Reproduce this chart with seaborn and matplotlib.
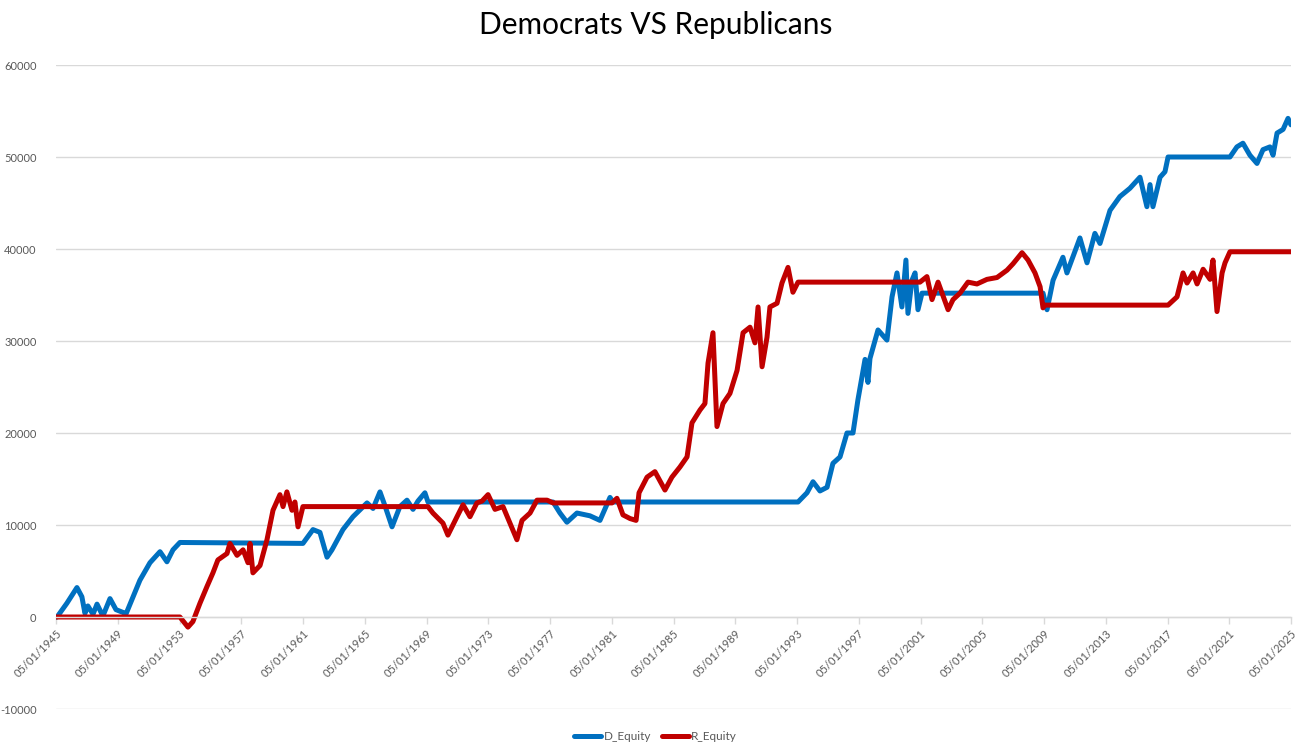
import matplotlib
matplotlib.use("Agg")
import matplotlib.pyplot as plt
import seaborn as sns
import pandas as pd

# ---- data (decimal years, equity) ----
d_years = [1945.33, 1945.40, 1946.04, 1946.69, 1947.01, 1947.21, 1947.40, 1947.73, 1947.99, 1948.37,
           1948.83, 1949.22, 1949.67, 1949.86, 1950.77, 1951.42, 1952.07, 1952.52, 1952.91, 1953.36,
           1961.33, 1961.98, 1962.43, 1962.89, 1963.21, 1963.92, 1964.57, 1965.48, 1965.87, 1966.32,
           1966.64, 1967.10, 1967.61, 1968.07, 1968.46, 1968.78, 1969.23, 1969.43,
           1977.53, 1977.98, 1978.43, 1979.08, 1979.92, 1980.57, 1981.22, 1981.41,
           1993.40, 1993.98, 1994.37, 1994.82, 1995.28, 1995.66, 1996.12, 1996.57, 1996.96, 1997.28,
           1997.74, 1997.93, 1998.06, 1998.58, 1999.16, 1999.49, 1999.81, 2000.13, 2000.39, 2000.52,
           2000.78, 2000.98, 2001.17, 2001.43,
           2009.27, 2009.53, 2009.92, 2010.56, 2010.82, 2011.66, 2012.12, 2012.63, 2012.96, 2013.61,
           2014.25, 2014.90, 2015.55, 2016.00, 2016.20, 2016.39, 2016.85, 2017.17, 2017.37,
           2021.38, 2021.83, 2022.22, 2022.67, 2023.13, 2023.52, 2023.97, 2024.17, 2024.43, 2024.82,
           2025.14, 2025.33]
d_equity = [0, 0, 1500, 3200, 2200, 400, 1200, 300, 1400, 100,
            2000, 800, 500, 300, 4000, 5900, 7100, 6000, 7300, 8100,
            8000, 9500, 9200, 6500, 7300, 9500, 10900, 12400, 11800, 13600,
            12100, 9800, 12000, 12700, 11700, 12600, 13500, 12500,
            12500, 11300, 10300, 11300, 11000, 10500, 13000, 12500,
            12500, 13500, 14700, 13700, 14100, 16700, 17400, 20000, 20000, 23600,
            28000, 25500, 28100, 31200, 30100, 34800, 37400, 33700, 38800, 33000,
            36600, 37400, 33400, 35200,
            35200, 33400, 36600, 39100, 37400, 41200, 38500, 41700, 40600, 44200,
            45700, 46600, 47800, 44600, 47000, 44600, 47800, 48400, 50000,
            50000, 51100, 51500, 50200, 49300, 50800, 51100, 50200, 52600, 53000,
            54200, 53500]

r_years = [1945.33, 1953.36, 1953.88, 1954.20, 1954.66, 1955.11, 1955.50, 1955.82, 1956.41, 1956.60,
           1957.06, 1957.45, 1957.77, 1957.90, 1958.09, 1958.55, 1959.00, 1959.39, 1959.84, 1960.04,
           1960.29, 1960.62, 1960.81, 1961.01, 1961.27, 1961.33,
           1969.43, 1969.75, 1970.40, 1970.72, 1971.31, 1971.70, 1972.15, 1972.60, 1972.93, 1973.32,
           1973.77, 1974.29, 1974.74, 1975.19, 1975.52, 1976.04, 1976.49, 1977.14, 1977.53,
           1981.35, 1981.67, 1982.06, 1982.52, 1982.91, 1983.10, 1983.62, 1984.13, 1984.78, 1985.23,
           1985.75, 1986.21, 1986.53, 1987.05, 1987.37, 1987.57, 1987.89, 1988.15, 1988.54, 1988.99,
           1989.45, 1989.84, 1990.29, 1990.61, 1990.81, 1991.07, 1991.39, 1991.58, 1992.04, 1992.36,
           1992.75, 1993.07, 1993.40,
           2001.30, 2001.75, 2002.08, 2002.47, 2003.12, 2003.44, 2003.89, 2004.41, 2004.99, 2005.64,
           2006.29, 2006.94, 2007.33, 2007.91, 2008.30, 2008.75, 2009.08, 2009.27, 2009.40,
           2017.37, 2017.95, 2018.34, 2018.60, 2018.99, 2019.25, 2019.64, 2020.09, 2020.28, 2020.54,
           2020.87, 2021.06, 2021.38, 2025.33]
r_equity = [0, 0, -1100, -500, 1500, 3300, 4800, 6200, 6900, 8000,
            6700, 7300, 5900, 8000, 4800, 5600, 8400, 11600, 13300, 12000,
            13600, 11600, 12500, 9800, 11600, 12000,
            12000, 11300, 10200, 8900, 10900, 12200, 10900, 12400, 12600, 13300,
            11700, 12000, 10200, 8400, 10500, 11300, 12700, 12700, 12400,
            12400, 12900, 11100, 10700, 10500, 13500, 15200, 15800, 13800, 15200,
            16300, 17400, 21100, 22500, 23200, 27600, 30900, 20700, 23200, 24300,
            26800, 30900, 31500, 29800, 33700, 27200, 30400, 33700, 34100, 36300,
            38000, 35300, 36400,
            36400, 37000, 34500, 36400, 33400, 34500, 35200, 36400, 36200, 36700,
            36900, 37700, 38400, 39600, 38800, 37400, 35900, 33600, 33900,
            33900, 34800, 37400, 36300, 37400, 36200, 37800, 36700, 38800, 33200,
            37400, 38500, 39700, 39700]

tick_years = [1945 + 4 * i for i in range(21)]
tick_labels = ["05/01/%d" % y for y in tick_years]
y_ticks = [-10000, 0, 10000, 20000, 30000, 40000, 50000, 60000]

title = "Democrats VS Republicans"
blue = "#0070C0"
red = "#C00000"
gray_text = "#595959"
grid_col = "#D9D9D9"

sns.set_theme(style="white")
plt.rcParams['font.family'] = ['Lato', 'DejaVu Sans']

fig = plt.figure(figsize=(13.11, 7.52), dpi=100)
ax = fig.add_axes([56 / 1311, 1 - 709 / 752, (1291 - 56) / 1311, (709 - 65) / 752])

df_d = pd.DataFrame({"year": d_years, "equity": d_equity})
df_r = pd.DataFrame({"year": r_years, "equity": r_equity})
sns.lineplot(data=df_d, x="year", y="equity", ax=ax, color=blue, linewidth=3.6,
             label="D_Equity", estimator=None, sort=False, solid_joinstyle="round")
sns.lineplot(data=df_r, x="year", y="equity", ax=ax, color=red, linewidth=3.6,
             label="R_Equity", estimator=None, sort=False, solid_joinstyle="round")

ax.set_xlim(1945 + 4 / 12, 2025 + 4 / 12)
ax.set_ylim(-10000, 60000)
ax.set_xlabel("")
ax.set_ylabel("")

ax.grid(axis="y", color=grid_col, linewidth=1)
ax.set_axisbelow(True)
for s in ["top", "right", "left"]:
    ax.spines[s].set_visible(False)
ax.spines["bottom"].set_position(("data", 0))
ax.spines["bottom"].set_color(grid_col)
ax.spines["bottom"].set_linewidth(1)
ax.tick_params(axis="x", which="both", bottom=True, length=5, width=1, color=grid_col,
               labelsize=8, labelcolor=gray_text, pad=3)
ax.tick_params(axis="y", left=False, labelsize=8, labelcolor=gray_text, pad=8)

ax.set_yticks(y_ticks)
ax.set_yticklabels([str(v) for v in y_ticks])
ax.set_xticks([y + 4 / 12 for y in tick_years])
ax.set_xticklabels(tick_labels)
for lab in ax.get_xticklabels():
    lab.set_rotation(45)
    lab.set_ha("right")
    lab.set_va("top")
    lab.set_rotation_mode("anchor")

fig.suptitle(title, y=0.985, fontsize=21.5, color="#000000", va="top")

ax.get_legend().remove()
handles, labels = ax.get_legend_handles_labels()
fig.legend(handles, labels, loc="center", bbox_to_anchor=(0.5, 1 - 737 / 752), ncol=2,
           frameon=False, fontsize=8.5, labelcolor=gray_text, handlelength=2.3,
           handletextpad=0.2, columnspacing=0.9)

fig.savefig("out.png", dpi=100)
